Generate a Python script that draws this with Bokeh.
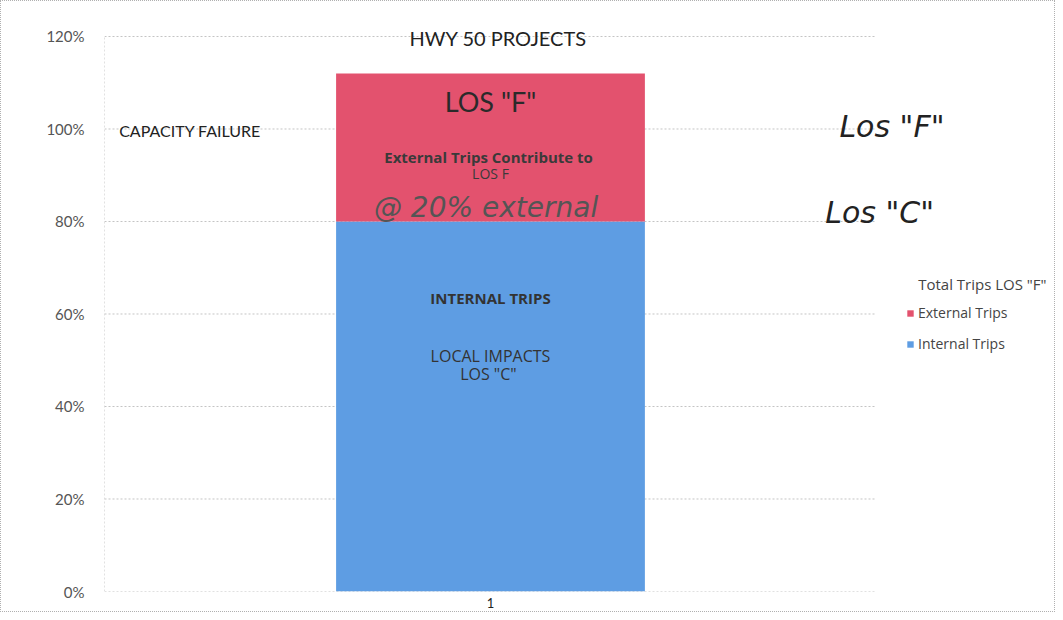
from bokeh.plotting import figure
from bokeh.models import (Range1d, NumeralTickFormatter, Legend, LegendItem,
                          Label, FixedTicker)
from bokeh.embed import file_html
from bokeh.resources import INLINE

# ---- data ----
categories = ["1"]
category_pos = [0.5]
internal_trips = [0.80]
external_trips = [0.32]
series_names = ["Internal Trips", "External Trips"]
y_ticks = [0.0, 0.2, 0.4, 0.6, 0.8, 1.0, 1.2]
title_text = "HWY 50 PROJECTS"
legend_title = 'Total Trips LOS "F"'

RED = "#E3526E"
BLUE = "#5E9DE3"
FONT = "Lato"
OS = "Open Sans"
HAND = "DejaVu Sans"

# plot area spans x 0..1 (one category); extra frame room on the right for legend/notes
X_MAX = 1.2306
Y_MAX = 1.2497

p = figure(width=1055, height=612, x_range=Range1d(0, X_MAX), y_range=Range1d(0, Y_MAX),
           output_backend="svg", toolbar_location=None,
           min_border_left=103, min_border_right=2, min_border_top=12, min_border_bottom=22)
p.outline_line_color = None
p.styles = {"border": "1px dotted #b0b0b0"}

data = dict(x=category_pos, internal=internal_trips, external=external_trips)

# grid lines drawn across the category area only
grid_y = y_ticks
p.segment(x0=[0] * len(grid_y), x1=[1] * len(grid_y), y0=grid_y, y1=grid_y,
          line_color="#c4c4c4", line_dash="2 2", line_width=1)
p.segment(x0=[0], x1=[0], y0=[0], y1=[y_ticks[-1]],
          line_color="#c4c4c4", line_dash="2 2", line_width=1)

rs = p.vbar_stack(["internal", "external"], x="x", width=0.4, source=data,
                  color=[BLUE, RED], line_color=None)

# axes
p.yaxis.ticker = FixedTicker(ticks=y_ticks)
p.yaxis.formatter = NumeralTickFormatter(format="0%")
p.yaxis.major_label_text_font = FONT
p.yaxis.major_label_text_font_size = "15px"
p.yaxis.major_label_text_color = "#555555"
p.yaxis.major_label_standoff = 14
p.yaxis.major_tick_line_color = None
p.yaxis.minor_tick_line_color = None
p.yaxis.axis_line_color = None

p.xaxis.ticker = FixedTicker(ticks=category_pos)
p.xaxis.major_label_overrides = {category_pos[i]: categories[i] for i in range(len(categories))}
p.xaxis.major_label_text_font = FONT
p.xaxis.major_label_text_font_size = "13px"
p.xaxis.major_label_text_color = "#222222"
p.xaxis.major_label_standoff = 6
p.xaxis.major_tick_line_color = None
p.xaxis.major_tick_out = 0
p.xaxis.minor_tick_line_color = None
p.xaxis.axis_line_color = None

p.xgrid.grid_line_color = None
p.ygrid.grid_line_color = None

# legend (title drawn separately as a label)
legend = Legend(items=[LegendItem(label=series_names[1], renderers=[rs[1]]),
                       LegendItem(label=series_names[0], renderers=[rs[0]])],
                location=(802, 238))
legend.label_text_font = OS
legend.label_text_font_size = "14px"
legend.label_text_color = "#444444"
legend.glyph_width = 8
legend.glyph_height = 8
legend.label_standoff = 4
legend.spacing = 12
legend.padding = 0
legend.margin = 0
legend.border_line_color = None
legend.background_fill_alpha = 0
p.add_layout(legend)

def add_label(x, y, text, size, color="#333333", style="normal", align="center",
              baseline="middle", font=FONT):
    p.add_layout(Label(x=x, y=y, text=text, text_font=font, text_font_size=size,
                       text_color=color, text_font_style=style, text_align=align,
                       text_baseline=baseline))

# title
add_label(0.51, 1.196, title_text, "20px", color="#222222", baseline="alphabetic")
# legend title
add_label(1.054, 0.664, legend_title, "15px", color="#444444", align="left", font=OS)
# annotations
add_label(0.019, 0.997, "CAPACITY FAILURE", "16px", color="#222222", align="left")
add_label(0.5, 1.059, 'LOS "F"', "27px", color="#2a2a2a")
add_label(0.5, 0.94, "External  Trips Contribute to", "15px", color="#3a3a3a",
          style="bold", font=OS)
add_label(0.5, 0.903, "LOS F", "14px", color="#3a3a3a", font=OS)
add_label(0.5, 0.83, "@  20% external", "28px", color="#555555", style="italic", font=HAND)
add_label(0.5, 0.634, "INTERNAL TRIPS", "15px", color="#333333", style="bold", font=OS)
add_label(0.5, 0.51, "LOCAL IMPACTS", "16px", color="#333333", font=OS)
add_label(0.5, 0.471, 'LOS  "C"', "16px", color="#333333", font=OS)
# handwritten notes on the right
add_label(1.02, 1.005, 'Los "F"', "30px", color="#222222", style="italic", font=HAND)
add_label(1.004, 0.82, 'Los "C"', "30px", color="#222222", style="italic", font=HAND)

open("out.html", "w").write(file_html(p, INLINE))
